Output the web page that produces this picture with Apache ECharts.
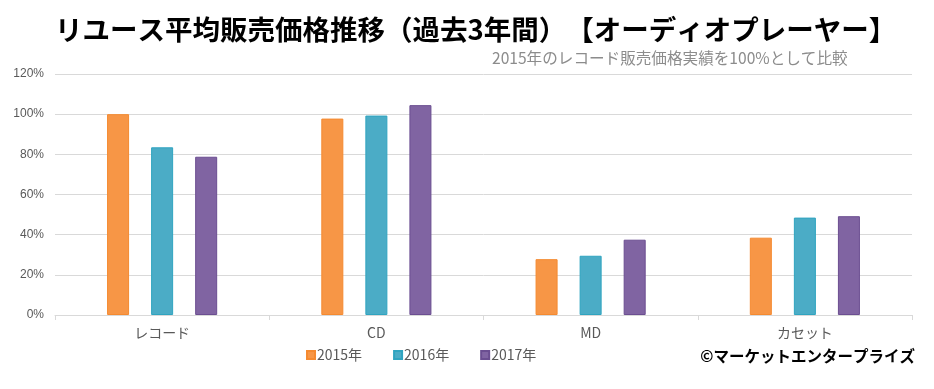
<!DOCTYPE html>
<html><head><meta charset="utf-8">
<script src="https://cdn.jsdelivr.net/npm/echarts@6/dist/echarts.min.js"></script>
<style>html,body{margin:0;padding:0;background:#fff}#c{width:934px;height:389px}</style>
</head><body><div id="c"></div>
<script>
const categories = ['レコード', 'CD', 'MD', 'カセット'];
const seriesNames = ['2015年', '2016年', '2017年'];
const v2015 = [100, 97.8, 27.8, 38.5];
const v2016 = [83.5, 99.3, 29.5, 48.5];
const v2017 = [78.8, 104.5, 37.5, 49.2];
const yTicks = [0, 20, 40, 60, 80, 100, 120];

const colors = ['#F79646', '#4BACC6', '#8064A2'];
const borders = ['#F58A30', '#2FA4C0', '#6B4E91'];
const FONT = '"Noto Sans CJK JP", "Noto Sans", sans-serif';
const chart = echarts.init(document.getElementById('c'));
const data = [v2015, v2016, v2017];
chart.setOption({
  animation: false,
  textStyle: { fontFamily: FONT },
  title: [
    { text: 'リユース平均販売価格推移（過去3年間）　【オーディオプレーヤー】', left: 50, top: 11,
      textStyle: { fontSize: 27.5, fontWeight: 'bold', color: '#000', fontFamily: FONT } },
    { text: '2015年のレコード販売価格実績を100%として比較', left: 487, top: 45,
      textStyle: { fontSize: 15.6, fontWeight: 'normal', color: '#8c8c8c', fontFamily: FONT } }
  ],
  grid: { left: 55, right: 22, top: 74, bottom: 74 },
  legend: {
    data: seriesNames, left: 301, top: 343, icon: 'rect', itemWidth: 8, itemHeight: 8, itemGap: 31,
    textStyle: { fontSize: 14, color: '#595959', fontFamily: FONT, padding: [0, 0, 0, -3] }
  },
  xAxis: {
    type: 'category', data: categories,
    axisLine: { lineStyle: { color: '#d9d9d9' } },
    axisTick: { show: true, length: 5, lineStyle: { color: '#d9d9d9' } },
    axisLabel: { fontSize: 14, color: '#595959', margin: 11 }
  },
  yAxis: {
    type: 'value', min: yTicks[0], max: yTicks[yTicks.length - 1], interval: 20,
    axisLine: { show: false }, axisTick: { show: false },
    splitLine: { lineStyle: { color: '#d9d9d9' } },
    axisLabel: { fontSize: 12, color: '#595959', formatter: '{value}%', margin: 11, fontFamily: 'Liberation Sans, Arial, sans-serif' }
  },
  series: seriesNames.map((n, i) => ({
    name: n, type: 'bar', data: data[i], barGap: '100%', barCategoryGap: '48.6%',
    itemStyle: { color: colors[i], borderColor: borders[i], borderWidth: 1 }
  })),
  graphic: [
    { type: 'text', right: 19, top: 348, style: { text: '©マーケットエンタープライズ', font: 'bold 15.5px ' + FONT, fill: '#000' } }
  ]
});
</script></body></html>
